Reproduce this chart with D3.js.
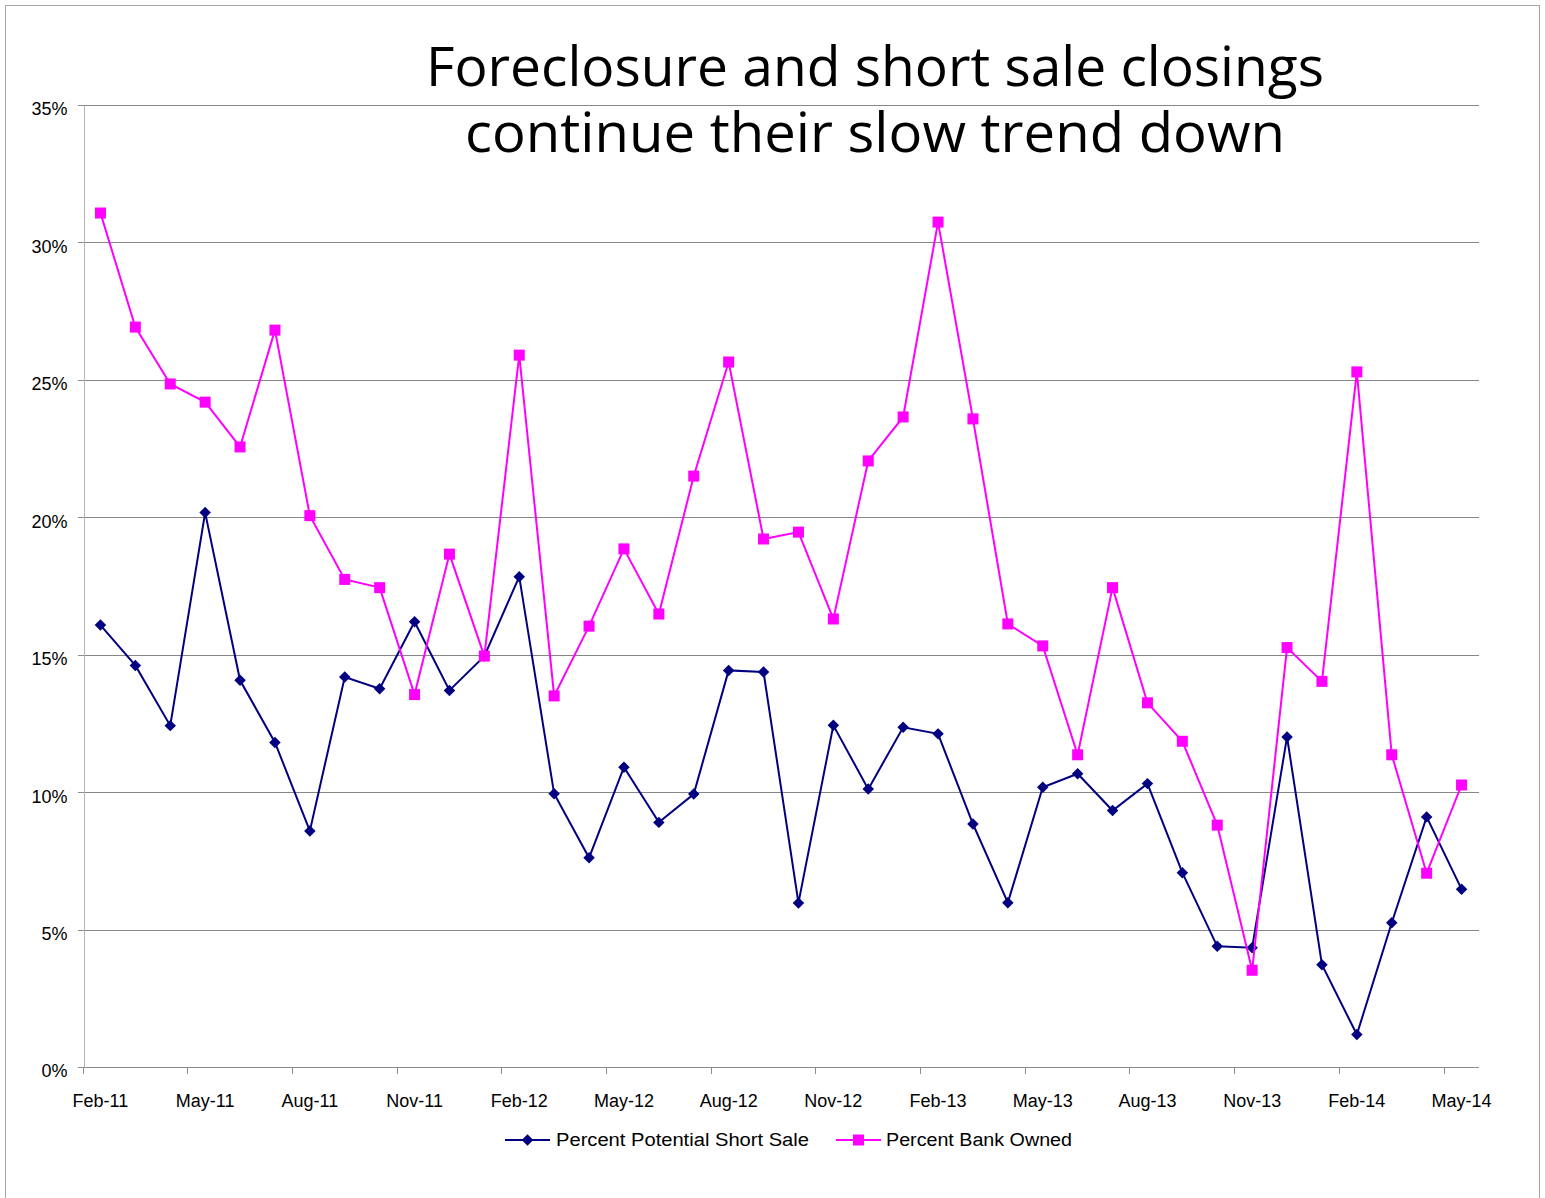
<!DOCTYPE html>
<meta charset="utf-8">
<style>
body { margin: 0; background: #fff; }
text { font-family: "Liberation Sans", Arial, sans-serif; fill: #000; }
.grid line { stroke: #878787; stroke-width: 1; shape-rendering: crispEdges; }
.yaxis path { stroke: #b4b4b4; shape-rendering: crispEdges; }
.yaxis line, .xaxis line, .xaxis path { stroke: #8c8c8c; shape-rendering: crispEdges; }
.axis text { font-size: 18px; }
.title { font-family: "Open Sans", sans-serif; font-size: 54px; }
</style>
<svg width="1545" height="1198"></svg>
<script src="https://cdn.jsdelivr.net/npm/d3@7/dist/d3.min.js"></script>
<script>

var months = ["Feb-11","Mar-11","Apr-11","May-11","Jun-11","Jul-11","Aug-11","Sep-11","Oct-11","Nov-11","Dec-11",
  "Jan-12","Feb-12","Mar-12","Apr-12","May-12","Jun-12","Jul-12","Aug-12","Sep-12","Oct-12","Nov-12","Dec-12",
  "Jan-13","Feb-13","Mar-13","Apr-13","May-13","Jun-13","Jul-13","Aug-13","Sep-13","Oct-13","Nov-13","Dec-13",
  "Jan-14","Feb-14","Mar-14","Apr-14","May-14"];

// percent potential short sale
var shortSale = [16.08,14.61,12.42,20.17,14.07,11.81,8.59,14.19,13.76,16.20,13.70,
  14.95,17.84,9.94,7.61,10.91,8.90,9.93,14.43,14.37,5.97,12.43,10.11,
  12.36,12.12,8.84,5.98,10.18,10.67,9.33,10.31,7.07,4.39,4.34,12.01,
  3.72,1.18,5.25,9.10,6.47];

// percent bank owned
var bankOwned = [31.07,26.92,24.85,24.19,22.56,26.81,20.06,17.74,17.44,13.55,18.66,
  14.95,25.90,13.50,16.04,18.85,16.48,21.50,25.65,19.21,19.46,16.30,22.05,
  23.65,30.74,23.58,16.12,15.32,11.36,17.44,13.25,11.85,8.80,3.52,15.26,
  14.03,25.29,11.36,7.05,10.26];

var yTicks = [0,5,10,15,20,25,30,35];
var xLabels = months.filter(function(d, i){ return i % 3 == 0; });

var svg = d3.select("svg");

svg.append("rect")
  .attr("x", 5.5).attr("y", 5.5)
  .attr("width", 1534).attr("height", 1210)
  .attr("fill", "none").attr("stroke", "#a6a6a6");

var pLeft = 83, pRight = 1479, pTop = 105, pBottom = 1067;

var x = d3.scaleBand().domain(months).range([pLeft, pRight]).padding(0);
var y = d3.scaleLinear().domain([0, 35]).range([pBottom, pTop]);
var bw = x.bandwidth();

// gridlines
svg.append("g").attr("class", "grid")
  .selectAll("line").data(yTicks.slice(1)).enter().append("line")
  .attr("x1", pLeft).attr("x2", pRight)
  .attr("y1", function(d){ return Math.round(y(d)) + 0.5; })
  .attr("y2", function(d){ return Math.round(y(d)) + 0.5; });

// title
var title = svg.append("g");
title.append("text").attr("class", "title")
  .attr("x", 426).attr("y", 86)
  .attr("textLength", 898).attr("lengthAdjust", "spacingAndGlyphs")
  .text("Foreclosure and short sale closings");
title.append("text").attr("class", "title")
  .attr("x", 465).attr("y", 152)
  .attr("textLength", 820).attr("lengthAdjust", "spacingAndGlyphs")
  .text("continue their slow trend down");

// y axis
var yAxis = svg.append("g").attr("class", "axis yaxis")
  .attr("transform", "translate(" + (pLeft + 0.5) + ",0)")
  .call(d3.axisLeft(y).tickValues(yTicks).tickSize(6).tickSizeOuter(0)
    .tickFormat(function(d){ return d + "%"; }));
yAxis.selectAll("text").attr("x", -16).attr("dy", "0.55em");

// x axis
var xAxis = svg.append("g").attr("class", "axis xaxis")
  .attr("transform", "translate(0," + (pBottom + 0.5) + ")")
  .call(d3.axisBottom(x).tickValues(xLabels).tickSize(6).tickSizeOuter(0));
xAxis.selectAll(".tick line").attr("x1", -bw / 2).attr("x2", -bw / 2);
xAxis.selectAll(".tick text").attr("y", 33).attr("dy", "0.35em");
xAxis.select(".domain").attr("d", "M" + pLeft + ",0H" + pRight);

function cx(d, i){ return x(months[i]) + bw / 2; }

var line = d3.line()
  .x(function(d, i){ return cx(d, i); })
  .y(function(d){ return y(d); });

// short sale series
svg.append("path").datum(shortSale)
  .attr("fill", "none").attr("stroke", "#000080").attr("stroke-width", 2)
  .attr("d", line);

svg.append("g").selectAll("path").data(shortSale).enter().append("path")
  .attr("d", d3.symbol(d3.symbolSquare, 66))
  .attr("fill", "#000080")
  .attr("transform", function(d, i){ return "translate(" + cx(d, i) + "," + y(d) + ") rotate(45)"; });

// bank owned series
svg.append("path").datum(bankOwned)
  .attr("fill", "none").attr("stroke", "#ff00ff").attr("stroke-width", 2)
  .attr("d", line);

svg.append("g").selectAll("rect").data(bankOwned).enter().append("rect")
  .attr("x", function(d, i){ return cx(d, i) - 5.5; })
  .attr("y", function(d){ return y(d) - 5.5; })
  .attr("width", 11).attr("height", 11)
  .attr("fill", "#ff00ff");

// legend
var legend = svg.append("g").attr("class", "axis");
var ly = 1140;
legend.append("line").attr("x1", 505).attr("x2", 550).attr("y1", ly).attr("y2", ly)
  .attr("stroke", "#000080").attr("stroke-width", 2);
legend.append("path").attr("d", d3.symbol(d3.symbolSquare, 66))
  .attr("fill", "#000080").attr("transform", "translate(527.5," + ly + ") rotate(45)");
legend.append("text").attr("x", 556).attr("y", ly).attr("dy", "0.35em")
  .attr("textLength", 253).attr("lengthAdjust", "spacingAndGlyphs")
  .text("Percent Potential Short Sale");

legend.append("line").attr("x1", 836).attr("x2", 881).attr("y1", ly).attr("y2", ly)
  .attr("stroke", "#ff00ff").attr("stroke-width", 2);
legend.append("rect").attr("x", 853).attr("y", ly - 5.5).attr("width", 11).attr("height", 11)
  .attr("fill", "#ff00ff");
legend.append("text").attr("x", 886).attr("y", ly).attr("dy", "0.35em")
  .attr("textLength", 186).attr("lengthAdjust", "spacingAndGlyphs")
  .text("Percent Bank Owned");

</script>
